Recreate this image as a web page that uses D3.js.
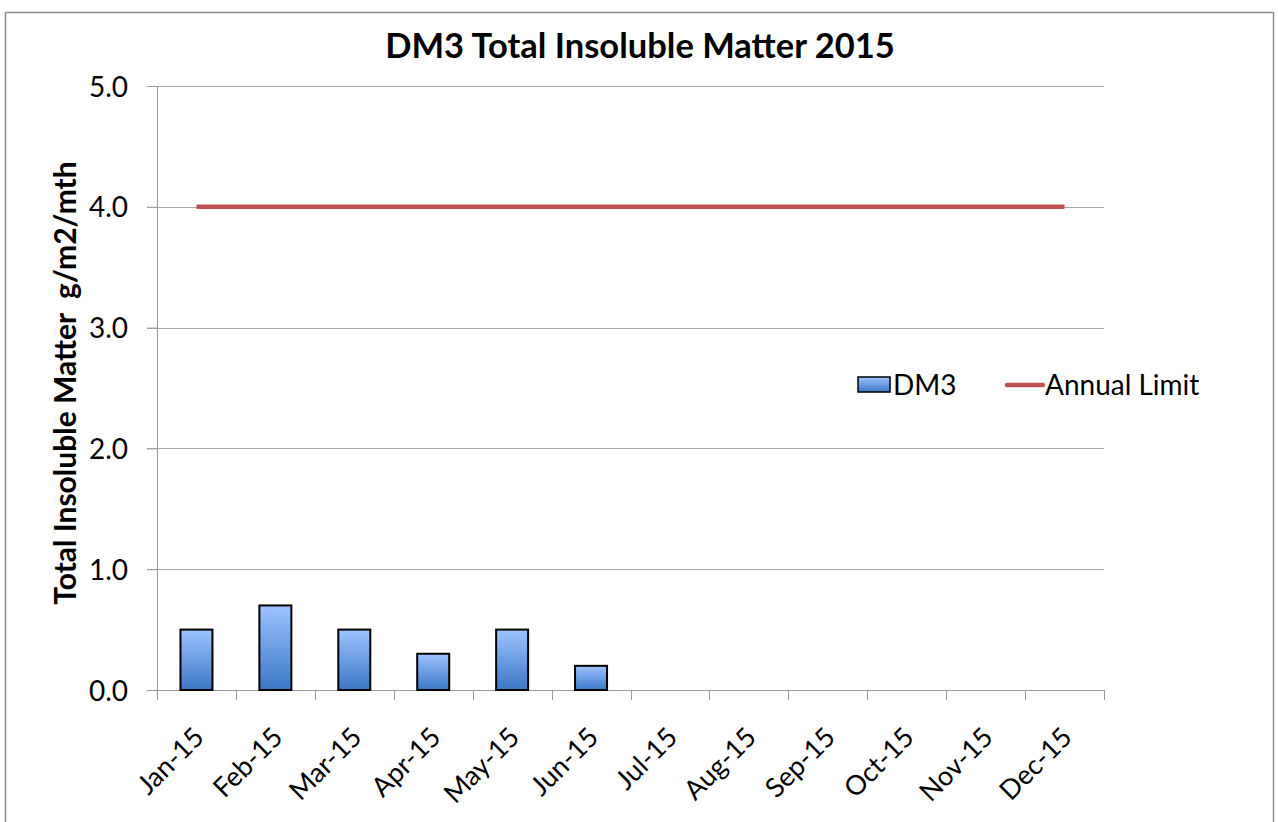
<!DOCTYPE html>
<html>
<head>
<meta charset="utf-8">
<script src="https://cdn.jsdelivr.net/npm/d3@7"></script>
<style>
  body { margin: 0; background: #fff; }
  text { font-family: Lato, "Open Sans", sans-serif; fill: #000; }
</style>
</head>
<body>
<svg class="root"></svg>
<script>
var months = ["Jan-15", "Feb-15", "Mar-15", "Apr-15", "May-15", "Jun-15",
  "Jul-15", "Aug-15", "Sep-15", "Oct-15", "Nov-15", "Dec-15"];
var dm3 = [0.5, 0.7, 0.5, 0.3, 0.5, 0.2, null, null, null, null, null, null];
var annualLimit = [4, 4, 4, 4, 4, 4, 4, 4, 4, 4, 4, 4];
var yTicks = [0, 1, 2, 3, 4, 5];

var W = 1278, H = 822;
var margin = {top: 86, right: 174, bottom: 132, left: 157},
  width = W - margin.left - margin.right,
  height = H - margin.top - margin.bottom;

var svg = d3.select(".root").attr("width", W).attr("height", H);

// outer chart frame
svg.append("rect")
  .attr("x", 5.5).attr("y", 12.5)
  .attr("width", 1268).attr("height", 830)
  .attr("fill", "#fff").attr("stroke", "#8c8c8c").attr("stroke-width", 1.5);

var defs = svg.append("defs");
var grad = defs.append("linearGradient")
  .attr("id", "barGrad").attr("x1", 0).attr("y1", 0).attr("x2", 0).attr("y2", 1);
grad.append("stop").attr("offset", "0%").attr("stop-color", "#9ec4ff");
grad.append("stop").attr("offset", "100%").attr("stop-color", "#3a77c6");

var chart = svg.append("g")
  .attr("transform", "translate(" + margin.left + "," + margin.top + ")");

var x = d3.scaleBand().domain(months).range([0, width]).paddingInner(0).paddingOuter(0);
var y = d3.scaleLinear().domain([0, 5]).range([height, 0]);

// gridlines
chart.selectAll(".grid")
  .data(yTicks.slice(1))
  .enter().append("line")
    .attr("x1", -10).attr("x2", width)
    .attr("y1", d => Math.round(y(d)) + 0.5).attr("y2", d => Math.round(y(d)) + 0.5)
    .attr("stroke", "#a6a6a6").attr("stroke-width", 1);

// y axis
var yAxis = d3.axisLeft(y).tickValues(yTicks).tickFormat(d3.format(".1f")).tickSize(10).tickPadding(19);
var yg = chart.append("g").attr("class", "y axis").call(yAxis);
yg.select(".domain").remove();
yg.selectAll(".tick line").attr("stroke", "#999");
yg.selectAll("text").style("font-size", "28px").attr("dy", "0.36em");
chart.append("line")
  .attr("x1", 0.5).attr("x2", 0.5).attr("y1", 0).attr("y2", height)
  .attr("stroke", "#999");

// x axis
var xAxis = d3.axisBottom(x).tickSize(0).tickFormat("");
var xg = chart.append("g").attr("transform", "translate(0," + height + ")").call(xAxis);
xg.select(".domain").remove();
chart.append("line")
  .attr("x1", -10).attr("x2", width).attr("y1", height + 0.5).attr("y2", height + 0.5)
  .attr("stroke", "#999");
chart.selectAll(".xtick")
  .data(months.concat(["end"]))
  .enter().append("line")
    .attr("x1", (d, i) => Math.round(i * x.step()) + 0.5)
    .attr("x2", (d, i) => Math.round(i * x.step()) + 0.5)
    .attr("y1", height).attr("y2", height + 10)
    .attr("stroke", "#999");

chart.selectAll(".xlabel")
  .data(months)
  .enter().append("text")
    .attr("text-anchor", "end")
    .style("font-size", "27px")
    .attr("transform", d => "translate(" + (x(d) + x.bandwidth() / 2 + 9) + "," + (height + 49) + ") rotate(-45)")
    .text(d => d);

// bars
var barW = 32;
chart.selectAll(".bar")
  .data(dm3.map((v, i) => ({m: months[i], v: v})).filter(d => d.v != null))
  .enter().append("rect")
    .attr("class", "bar")
    .attr("x", d => x(d.m) + x.bandwidth() / 2 - barW / 2)
    .attr("y", d => y(d.v))
    .attr("width", barW)
    .attr("height", d => height - y(d.v))
    .attr("fill", "url(#barGrad)")
    .attr("stroke", "#000").attr("stroke-width", 2);

// annual limit line
var line = d3.line()
  .x((d, i) => x(months[i]) + x.bandwidth() / 2)
  .y(d => y(d));
chart.append("path")
  .datum(annualLimit)
  .attr("d", line)
  .attr("fill", "none").attr("stroke", "#c0504d").attr("stroke-width", 4.5);

// title
svg.append("text")
  .attr("x", 640).attr("y", 58)
  .attr("text-anchor", "middle")
  .style("font-size", "34.5px").style("font-weight", "bold")
  .text("DM3 Total Insoluble Matter 2015");

// y axis title
svg.append("text")
  .attr("transform", "translate(76,383) rotate(-90)")
  .attr("text-anchor", "middle")
  .style("font-size", "30px").style("font-weight", "bold")
  .style("white-space", "pre")
  .text("Total Insoluble Matter  g/m2/mth");

// legend
var lg = svg.append("g");
lg.append("rect")
  .attr("x", 858).attr("y", 377).attr("width", 32).attr("height", 15)
  .attr("fill", "url(#barGrad)").attr("stroke", "#000").attr("stroke-width", 1.5);
lg.append("text").attr("x", 893).attr("y", 395).style("font-size", "28px").text("DM3");
lg.append("line")
  .attr("x1", 1007).attr("x2", 1043).attr("y1", 385).attr("y2", 385)
  .attr("stroke", "#c0504d").attr("stroke-width", 4.5).attr("stroke-linecap", "round");
lg.append("text").attr("x", 1045).attr("y", 395).style("font-size", "28px").text("Annual Limit");
</script>
</body>
</html>
